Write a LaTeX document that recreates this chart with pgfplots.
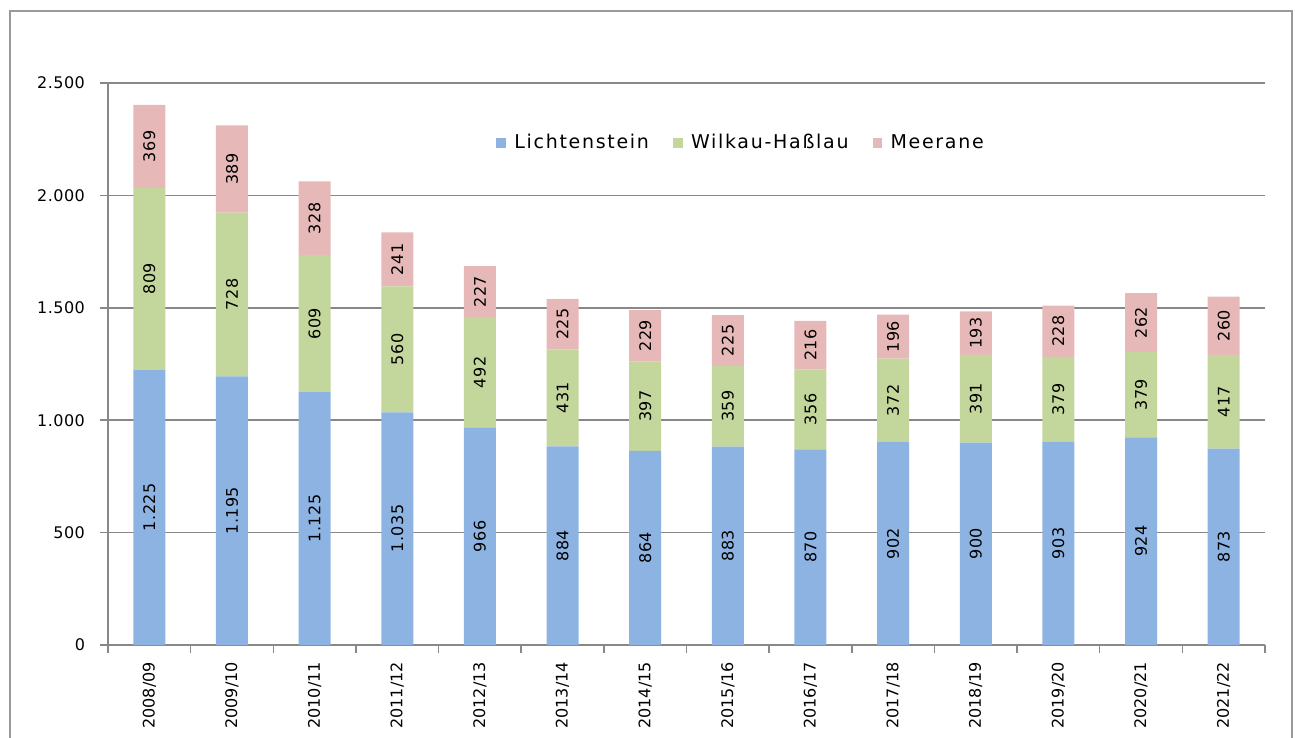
\documentclass[border=0pt]{standalone}
\usepackage{fontspec}
\setmainfont{DejaVu Sans}
\newfontfamily\spaced{DejaVu Sans}[LetterSpace=3]
\newfontfamily\legfont{DejaVu Sans}[LetterSpace=9]
\usepackage{pgfplots}
\pgfplotsset{compat=1.18}
\definecolor{cL}{HTML}{8DB3E2}
\definecolor{cW}{HTML}{C3D69B}
\definecolor{cM}{HTML}{E6B9B8}
\definecolor{gridc}{HTML}{888888}
\definecolor{framec}{HTML}{9A9A9A}
\begin{document}
\begin{tikzpicture}
\useasboundingbox (0,0) rectangle (647.5pt,369pt);
\draw[framec, line width=1pt] (5pt,0) -- (5pt,363.5pt) -- (646pt,363.5pt) -- (646pt,0);
\begin{axis}[
  at={(54pt,46.5pt)}, anchor=south west,
  scale only axis, width=578.5pt, height=281pt,
  xmin=-0.5, xmax=13.5, ymin=0, ymax=2500,
  ybar stacked, bar width=16pt,
  axis lines*=left,
  axis line style={gridc, line width=0.75pt},
  ymajorgrids, grid style={gridc, line width=0.75pt},
  ytick={0,500,...,2500},
  tick align=outside, major tick length=4pt,
  tick style={gridc, line width=0.75pt},
  xtick={-0.5,0.5,...,13.5}, xticklabels={},
  extra x ticks={0,1,...,13},
  extra x tick labels={2008/09,2009/10,2010/11,2011/12,2012/13,2013/14,2014/15,2015/16,2016/17,2017/18,2018/19,2019/20,2020/21,2021/22},
  extra x tick style={major tick length=0pt},
  x tick label style={font=\fontsize{8}{9.6}\selectfont, rotate=90, anchor=east, xshift=-5pt},
  y tick label style={font=\spaced\fontsize{8}{9.6}\selectfont, xshift=-4pt},
  /pgf/number format/1000 sep={.},
  /pgf/number format/assume math mode=true,
  nodes near coords,
  every node near coord/.append style={font=\spaced\fontsize{8}{9.6}\selectfont, rotate=90, anchor=center, text=black},
  legend style={at={(0.548,0.893)}, anchor=center, draw=none, fill=none,
    legend columns=-1, font=\legfont\fontsize{9.5}{11}\selectfont,
    nodes={text height=7pt, text depth=1.5pt},
    /tikz/every even column/.append style={column sep=10pt}},
  legend image code/.code={\fill[#1] (0pt,-2.4pt) rectangle (4.8pt,2.4pt); \path (7pt,0);},
]
\addplot[fill=cL, draw=none] coordinates {(0,1225) (1,1195) (2,1125) (3,1035) (4,966) (5,884) (6,864) (7,883) (8,870) (9,902) (10,900) (11,903) (12,924) (13,873)};
\addplot[fill=cW, draw=none] coordinates {(0,809) (1,728) (2,609) (3,560) (4,492) (5,431) (6,397) (7,359) (8,356) (9,372) (10,391) (11,379) (12,379) (13,417)};
\addplot[fill=cM, draw=none] coordinates {(0,369) (1,389) (2,328) (3,241) (4,227) (5,225) (6,229) (7,225) (8,216) (9,196) (10,193) (11,228) (12,262) (13,260)};
\legend{Lichtenstein, Wilkau-Haßlau, Meerane}
\end{axis}
\end{tikzpicture}
\end{document}
